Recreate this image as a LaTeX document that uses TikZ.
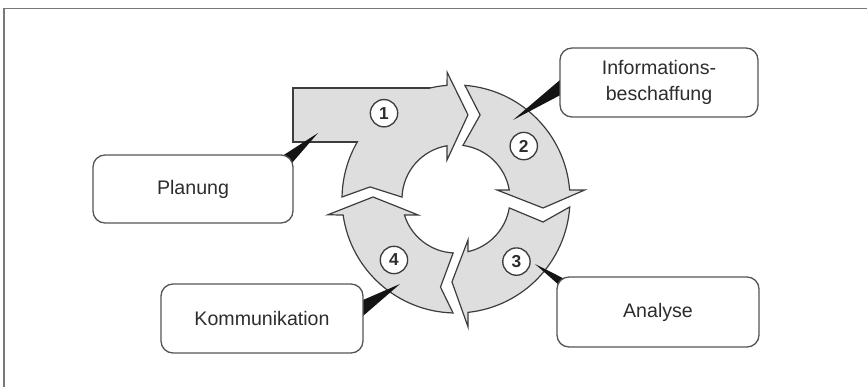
\documentclass[tikz,border=0pt]{standalone}
\usepackage{fontspec}
\setmainfont{Liberation Sans}
\usetikzlibrary{calc}
\definecolor{ringfill}{RGB}{222,222,222}
\definecolor{edgec}{RGB}{60,60,60}
\definecolor{boxedge}{RGB}{85,85,85}
\definecolor{txt}{RGB}{45,45,45}
\definecolor{framec}{RGB}{120,120,120}
\pgfdeclarelayer{front}
\pgfsetlayers{main,front}
\begin{document}
\begin{tikzpicture}[x=0.75pt,y=0.75pt,
  ring/.style={fill=ringfill,draw=edgec,line width=0.9pt,line join=miter},
  labelbox/.style={draw=boxedge,fill=white,line width=1pt,rounded corners=9pt,
    inner sep=0pt,font=\fontsize{14.7}{19}\selectfont,text=txt,align=center},
  num/.style={circle,draw=edgec,fill=white,line width=1pt,minimum size=20.5pt,
    inner sep=0pt,font=\fontsize{13}{13}\selectfont\bfseries,text=txt},
  pointer/.style={fill=black!92}]
\useasboundingbox (0,0) rectangle (867,387);
% page frame (top and left edges)
\draw[framec,line width=1.2pt] (4,0) -- (4,378.5) -- (867,378.5);

\coordinate (C) at (456,188);
% tab joined to the first arrow
\draw[ring] (293,245) rectangle (440,299);
% four curved arrows: tail outer/inner, notch angle/radius, outer junction,
% outer barb angle/radius, tip angle/radius, inner barb angle/radius, inner junction
\foreach \ta/\tb/\na/\nr/\oj/\ob/\obr/\pa/\pr/\ib/\ibr/\ij in {
    179/178/172/86.8/94.5/94/127/81.9/85/103/40/99.6,
    85.5/82.6/74/87.4/4.5/4/129/-5.9/87.5/12.4/42/9.6,
    -4/-9.5/-14.8/90/-84/-84.6/128.6/-92.8/83/-73.7/42.7/-77.2,
    -91.5/-93/-100/89.4/-171.9/-173/129/-181.4/83/-157/41/-162.8}{
  \begin{scope}[shift={(C)}]
    \draw[ring] (\ta:114) arc[start angle=\ta,end angle=\oj,radius=114]
      -- (\ob:\obr) -- (\pa:\pr) -- (\ib:\ibr) -- (\ij:54)
      arc[start angle=\ij,end angle=\tb,radius=54] -- (\na:\nr) -- cycle;
  \end{scope}}
% merge tab and arrow into one shape
\fill[ringfill] (293.9,245.9) rectangle (439,298.1);

% step numbers
\node[num] (n1) at ($(C)+(130:112)$) {1};
\node[num] (n2) at ($(C)+(38:86)$) {2};
\node[num] (n3) at ($(C)+(-46:87)$) {3};
\node[num] (n4) at ($(C)+(-135.5:87)$) {4};

% label boxes
\begin{pgfonlayer}{front}
\node[labelbox,minimum width=150pt,minimum height=51pt] (plan) at (193,198) {Planung};
\node[labelbox,minimum width=148.5pt,minimum height=51.75pt] (info) at (659,304.5) {Informations-\\beschaffung};
\node[labelbox,minimum width=151.5pt,minimum height=51.75pt] (komm) at (262,68.5) {Kommunikation};
\node[labelbox,minimum width=151.5pt,minimum height=52.5pt] (ana) at (658,75) {Analyse};
\end{pgfonlayer}

% callout pointers
\coordinate (tp) at (318,254);
\coordinate (ti) at (513,267);
\coordinate (tk) at (400,103);
\coordinate (ta) at (535,123);
\fill[pointer] (tp) -- ($(plan.north east)+(-12,-2)$) -- ($(plan.north east)+(-2,-9)$) -- cycle;
\fill[pointer] (ti) -- ($(info.west)+(3,4.5)$) -- ($(info.west)+(3,-11.5)$) -- cycle;
\fill[pointer] (tk) -- ($(komm.east)+(-3,17.5)$) -- ($(komm.east)+(-3,0.5)$) -- cycle;
\fill[pointer] (ta) -- ($(ana.north west)+(3,-9)$) -- ($(ana.north west)+(9,-3)$) -- cycle;
\end{tikzpicture}
\end{document}
